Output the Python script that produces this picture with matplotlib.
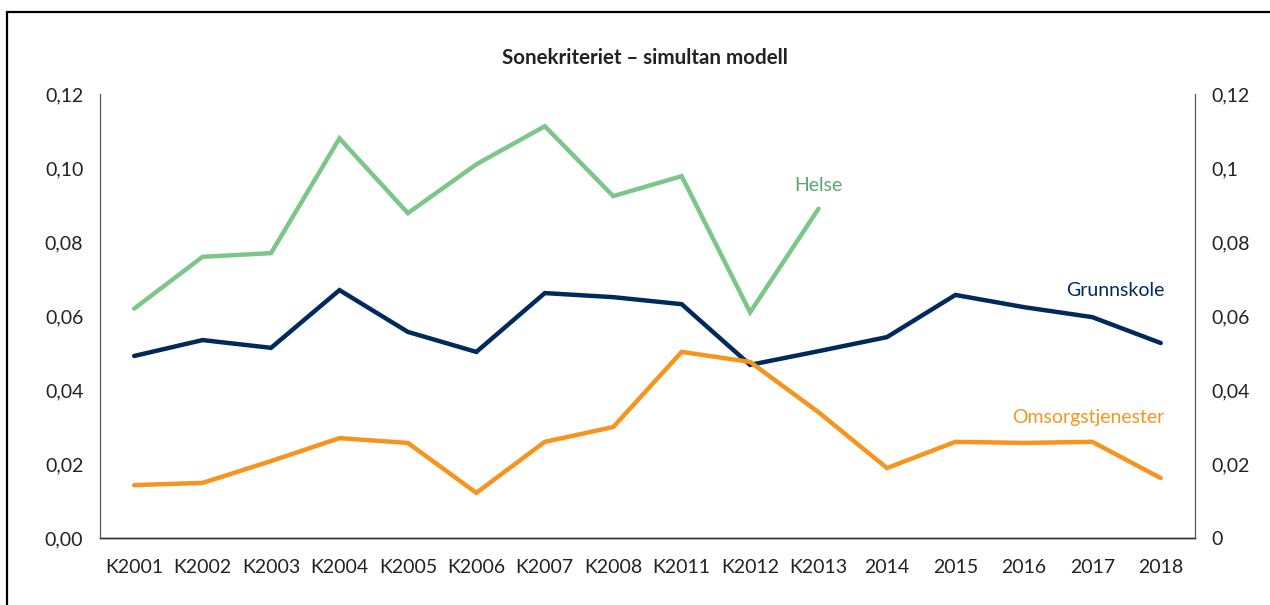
import numpy as np
import matplotlib
matplotlib.use('Agg')
import matplotlib.pyplot as plt
from matplotlib.patches import Rectangle
from matplotlib.ticker import FixedLocator, FuncFormatter

plt.rcParams['font.family'] = ['Lato', 'DejaVu Sans']

categories = ['K2001', 'K2002', 'K2003', 'K2004', 'K2005', 'K2006', 'K2007', 'K2008',
              'K2011', 'K2012', 'K2013', '2014', '2015', '2016', '2017', '2018']
helse = [0.062, 0.076, 0.077, 0.108, 0.0878, 0.101, 0.1113, 0.0924,
         0.0978, 0.061, 0.089]
grunnskole = [0.0492, 0.0535, 0.0514, 0.067, 0.0557, 0.0503, 0.0662, 0.0651,
              0.0632, 0.0468, 0.0505, 0.0543, 0.0657, 0.0624, 0.0597, 0.0527]
omsorg = [0.0143, 0.0149, 0.0208, 0.027, 0.0257, 0.0122, 0.026, 0.030,
          0.0503, 0.0476, 0.034, 0.0189, 0.026, 0.0257, 0.026, 0.0162]
left_ticks = [0, 0.02, 0.04, 0.06, 0.08, 0.10, 0.12]
right_labels = ['0', '0,02', '0,04', '0,06', '0,08', '0,1', '0,12']

green = '#7dc68a'
navy = '#002a5c'
orange = '#f7941d'
fs = 14

fig = plt.figure(figsize=(12.7, 6.05), dpi=100)
ax = fig.add_axes([0.0787, 0.1107, 0.8622, 0.7339])

x = np.arange(len(categories))
ax.plot(x[:len(helse)], helse, color=green, lw=3.2, solid_capstyle='round', solid_joinstyle='miter')
ax.plot(x, grunnskole, color=navy, lw=3.2, solid_capstyle='round', solid_joinstyle='miter')
ax.plot(x, omsorg, color=orange, lw=3.2, solid_capstyle='round', solid_joinstyle='miter')

ax.set_xlim(-0.5, len(categories) - 0.5)
ax.set_ylim(0, 0.12)
ax.set_xticks(x)
ax.set_xticklabels(categories)
ax.yaxis.set_major_locator(FixedLocator(left_ticks))
ax.yaxis.set_major_formatter(FuncFormatter(lambda v, p: f'{v:.2f}'.replace('.', ',')))
ax.tick_params(axis='both', length=0, labelsize=fs, colors='#222222')
ax.tick_params(axis='x', pad=15)
ax.tick_params(axis='y', pad=12)

ax2 = ax.twinx()
ax2.set_ylim(0, 0.12)
ax2.yaxis.set_major_locator(FixedLocator(left_ticks))
ax2.set_yticklabels(right_labels)
ax2.tick_params(axis='y', length=0, labelsize=fs, colors='#222222', pad=12)

for a in (ax, ax2):
    a.spines['top'].set_visible(False)
    a.spines['left'].set_color('#555555')
    a.spines['right'].set_color('#555555')
    a.spines['bottom'].set_color('#333333')
    a.spines['left'].set_linewidth(0.8)
    a.spines['right'].set_linewidth(0.8)
    a.spines['bottom'].set_linewidth(1.0)

ax.text(10, 0.0954, 'Helse', color='#5aa870', fontsize=fs, ha='center', va='center')
ax.text(15.05, 0.0668, 'Grunnskole', color=navy, fontsize=fs, ha='right', va='center')
ax.text(15.05, 0.0327, 'Omsorgstjenester', color=orange, fontsize=fs, ha='right', va='center')

fig.text(0.508, 0.904, 'Sonekriteriet – simultan modell', fontsize=14.8,
         fontweight='bold', ha='center', va='center', color='#222222')

frame = Rectangle((7 / 1270, -0.1), 1.2, 1.1 - 12 / 605, transform=fig.transFigure,
                  fill=False, edgecolor='black', lw=1.6, clip_on=False)
fig.patches.append(frame)

fig.savefig('out.png', dpi=100)
